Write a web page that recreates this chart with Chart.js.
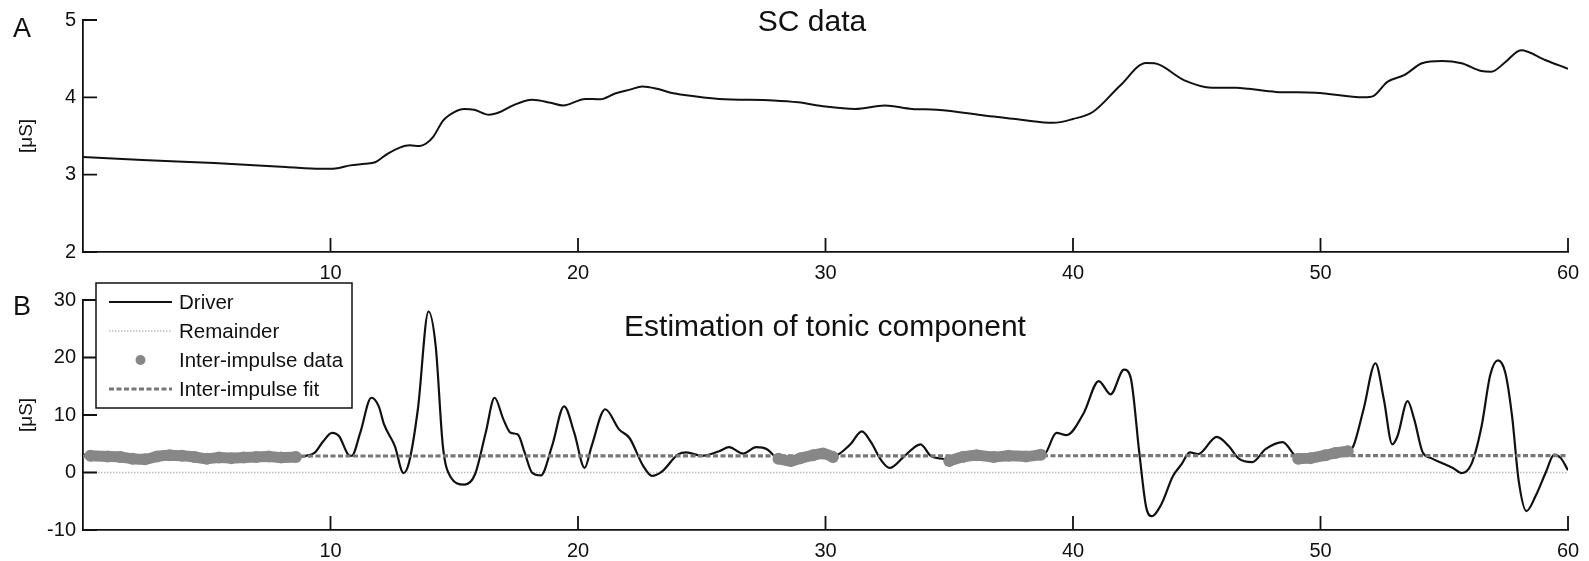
<!DOCTYPE html>
<html>
<head>
<meta charset="utf-8">
<title>SC data / tonic component</title>
<script src="https://cdn.jsdelivr.net/npm/chart.js@4.4.1/dist/chart.umd.min.js"></script>
<style>
  html, body { margin: 0; padding: 0; background: #fff; }
  #wrap { position: relative; width: 1589px; height: 561px; overflow: hidden; }
  canvas { position: absolute; left: 0; }
  #sc { top: 0; }
  #tonic { top: 270px; }
</style>
</head>
<body>
<div id="wrap">
  <canvas id="sc" width="1589" height="290"></canvas>
  <canvas id="tonic" width="1589" height="291"></canvas>
</div>
<script>
const FONT = "'Liberation Sans', Arial, Helvetica, sans-serif";
const INK = '#111';

// --- panel A: raw skin conductance (seconds, µS)
const scTime = [0, 2.4, 5.3, 8.2, 9.6, 10.2, 10.8, 11.4, 11.8, 12.3, 12.8, 13.2, 13.6, 13.85, 14.15, 14.55, 15.0, 15.4, 15.8, 16.4,
  16.85, 17.4, 18.15, 18.9, 19.4, 20.3, 20.9, 21.5, 22.1, 22.6, 23.2, 23.75, 24.3, 25.7, 27.9, 28.9, 30.0, 31.2, 32.4, 33.5,
  34.5, 36.55, 37.9, 39.2, 40.0, 40.8, 41.9, 42.95, 43.3, 44.5, 45.6, 46.6, 47.1, 48.2, 49.8, 51.75, 52.15, 52.7, 53.4, 54.1,
  54.9, 55.7, 56.5, 56.9, 57.45, 58.1, 59.1, 60];
const scValue = [3.23, 3.19, 3.15, 3.10, 3.075, 3.08, 3.12, 3.14, 3.16, 3.27, 3.35, 3.38, 3.37, 3.40, 3.49, 3.70, 3.81, 3.85, 3.84, 3.775,
  3.81, 3.90, 3.97, 3.93, 3.895, 3.98, 3.975, 4.05, 4.10, 4.14, 4.11, 4.06, 4.03, 3.98, 3.96, 3.935, 3.88, 3.85, 3.895, 3.85,
  3.84, 3.76, 3.71, 3.67, 3.72, 3.81, 4.15, 4.445, 4.44, 4.22, 4.125, 4.125, 4.11, 4.07, 4.06, 4.00, 4.02, 4.20, 4.29, 4.44,
  4.47, 4.44, 4.34, 4.33, 4.45, 4.61, 4.48, 4.37];

// --- panel B: driver and tonic estimation
const driverTime = [0, 0.5, 1.0, 1.5, 2.0, 2.5, 3.0, 3.5, 4.0, 4.5, 5.0, 5.5, 6.0, 6.5, 7.0, 7.5, 8.0, 8.6, 9.0, 9.35,
  9.7, 10.06, 10.35, 10.7, 10.86, 11.2, 11.65, 11.95, 12.16, 12.6, 12.95, 13.17, 13.53, 13.96, 14.25, 14.54, 14.83, 15.41, 15.84, 16.27,
  16.63, 16.99, 17.28, 17.57, 17.85, 18.14, 18.5, 18.95, 19.44, 19.85, 20.27, 20.55, 21.1, 21.66, 22.08, 22.64, 22.99, 23.4, 24.03, 24.38,
  25.0, 25.7, 26.1, 26.67, 27.2, 27.65, 28.06, 28.6, 29.0, 29.5, 29.9, 30.3, 30.98, 31.47, 31.82, 32.24, 32.59, 33.2, 33.84, 34.25,
  34.8, 35.0, 35.55, 36.1, 36.8, 37.4, 38.1, 38.7, 38.85, 39.33, 39.74, 40.43, 41.04, 41.52, 42.06, 42.33, 42.68, 42.95, 43.18, 43.56,
  44.04, 44.38, 44.72, 45.06, 45.81, 46.29, 46.7, 47.24, 47.79, 48.47, 48.95, 49.1, 49.6, 50.2, 50.6, 51.1, 51.33, 51.74, 52.22, 52.56,
  52.9, 53.11, 53.52, 53.79, 54.13, 54.47, 54.88, 55.35, 55.7, 56.1, 56.51, 56.86, 57.17, 57.47, 57.74, 58.01, 58.32, 58.69, 59.1, 59.44,
  59.71, 60];
const driverValue = [3.1, 2.9, 2.8, 2.7, 2.4, 2.3, 2.8, 3.0, 2.9, 2.7, 2.4, 2.6, 2.5, 2.6, 2.7, 2.8, 2.6, 2.7, 2.9, 3.4,
  5.4, 6.9, 6.3, 3.2, 2.9, 6.9, 13.0, 11.5, 8.4, 4.6, -0.1, 1.7, 11.0, 28.0, 22.0, 4.6, -0.6, -2.1, -0.3, 6.9,
  13.0, 9.2, 6.9, 6.6, 3.4, 0, -0.5, 4.6, 11.5, 6.9, 0.8, 4.6, 11.0, 7.5, 6.0, 1.1, -0.6, 0.2, 3.1, 3.5,
  2.9, 3.7, 4.4, 3.3, 4.4, 4.0, 2.4, 2.0, 2.5, 3.0, 3.3, 2.8, 4.8, 7.15, 5.4, 2.2, 0.8, 2.9, 4.9, 2.9,
  2.3, 2.0, 2.7, 3.0, 2.7, 2.9, 2.8, 3.1, 3.2, 6.9, 6.5, 10.3, 15.9, 13.6, 17.9, 16.5, 3.4, -5.9, -7.6, -5.6,
  -0.6, 1.4, 3.5, 3.2, 6.2, 4.6, 2.4, 1.8, 4.1, 5.3, 3.0, 2.4, 2.5, 3.0, 3.4, 3.7, 4.6, 11.0, 19.0, 12.7,
  4.9, 6.3, 12.4, 9.2, 3.5, 2.5, 1.7, 0.8, -0.1, 1.5, 8.1, 17.0, 19.5, 17.3, 9.8, -1.5, -6.7, -4.1, 0, 3.1,
  2.5, 0.4];

// inter-impulse segments, null value = gap between segments
const impTime = [0.3, 1.0, 1.5, 2.0, 2.5, 3.0, 3.5, 4.0, 4.5, 5.0, 5.5, 6.0, 6.5, 7.0, 7.5, 8.0, 8.6, 18,
  28.1, 28.6, 29.0, 29.5, 29.9, 30.3, 32,
  35.0, 35.55, 36.1, 36.8, 37.4, 38.1, 38.7, 45,
  49.1, 49.6, 50.2, 50.6, 51.1];
const impValue = [2.9, 2.8, 2.7, 2.4, 2.3, 2.8, 3.0, 2.9, 2.7, 2.4, 2.6, 2.5, 2.6, 2.7, 2.8, 2.6, 2.7, null,
  2.4, 2.0, 2.5, 3.0, 3.3, 2.7, null,
  2.0, 2.7, 3.0, 2.7, 2.9, 2.8, 3.1, null,
  2.4, 2.5, 3.0, 3.4, 3.7];

const fitTime = [0, 30, 60];
const fitValue = [2.85, 2.9, 2.95];
const remTime = [0, 60];
const remValue = [0, 0];

const xTicks = [10, 20, 30, 40, 50, 60];
const yTicksA = [2, 3, 4, 5];
const yTicksB = [-10, 0, 10, 20, 30];
const legendLabels = ['Driver', 'Remainder', 'Inter-impulse data', 'Inter-impulse fit'];

const toPoints = (xs, ys) => xs.map((x, i) => ({ x: x, y: ys[i] }));

// MATLAB style ticks pointing into the axes
const inwardTicks = {
  id: 'inwardTicks',
  afterDraw(chart) {
    const { ctx, chartArea: a, scales: { x, y } } = chart;
    ctx.save();
    ctx.strokeStyle = INK;
    ctx.lineWidth = 1.8;
    ctx.beginPath();
    x.ticks.forEach(t => {
      const px = x.getPixelForValue(t.value);
      ctx.moveTo(px, a.bottom);
      ctx.lineTo(px, a.bottom - 14);
    });
    y.ticks.forEach(t => {
      const py = y.getPixelForValue(t.value);
      ctx.moveTo(a.left, py);
      ctx.lineTo(a.left + 14, py);
    });
    ctx.stroke();
    ctx.restore();
  }
};

// panel letter and the title written inside the axes
const panelText = {
  id: 'panelText',
  afterDraw(chart, args, o) {
    const ctx = chart.ctx;
    ctx.save();
    ctx.fillStyle = INK;
    ctx.textBaseline = 'middle';
    ctx.textAlign = 'left';
    ctx.font = '27px ' + FONT;
    ctx.fillText(o.letter, 13, o.letterY);
    ctx.textAlign = 'center';
    ctx.font = '30px ' + FONT;
    ctx.fillText(o.title, o.titleX, o.titleY);
    ctx.restore();
  }
};

// boxed legend in the upper left corner of panel B
const boxLegend = {
  id: 'boxLegend',
  afterDraw(chart, args, o) {
    if (!o.labels) return;
    const ctx = chart.ctx;
    ctx.save();
    ctx.fillStyle = '#fff';
    ctx.fillRect(o.left, o.top, o.width, o.height);
    ctx.strokeStyle = INK;
    ctx.lineWidth = 1.5;
    ctx.strokeRect(o.left, o.top, o.width, o.height);
    ctx.font = '20.5px ' + FONT;
    ctx.textBaseline = 'middle';
    ctx.textAlign = 'left';
    o.labels.forEach((label, i) => {
      const ds = chart.data.datasets[i];
      const y = o.top + o.firstRow + i * o.rowGap;
      const x0 = o.left + 13, x1 = o.left + 76;
      if (ds.pointRadius > 0) {
        ctx.fillStyle = ds.borderColor;
        ctx.beginPath();
        ctx.arc((x0 + x1) / 2, y, 5, 0, Math.PI * 2);
        ctx.fill();
      } else {
        ctx.strokeStyle = ds.borderColor;
        ctx.lineWidth = ds.borderWidth;
        ctx.setLineDash(ds.borderDash || []);
        ctx.beginPath();
        ctx.moveTo(x0, y);
        ctx.lineTo(x1, y);
        ctx.stroke();
        ctx.setLineDash([]);
      }
      ctx.fillStyle = INK;
      ctx.fillText(label, o.left + 83, y + 1);
    });
    ctx.restore();
  }
};

function axes(yMin, yMax, yTicks, xHeight) {
  const tickFont = { family: FONT, size: 20 };
  return {
    x: {
      type: 'linear', min: 0, max: 60,
      afterBuildTicks: s => { s.ticks = xTicks.map(v => ({ value: v })); },
      afterFit: s => { s.height = xHeight; s.paddingLeft = 0; s.paddingRight = 0; },
      ticks: { font: tickFont, color: INK, padding: 9, maxRotation: 0, autoSkip: false },
      grid: { display: true, drawOnChartArea: false, drawTicks: false },
      border: { color: INK, width: 1.8 }
    },
    y: {
      min: yMin, max: yMax,
      afterBuildTicks: s => { s.ticks = yTicks.map(v => ({ value: v })); },
      afterFit: s => { s.width = 83; s.paddingTop = 0; s.paddingBottom = 0; },
      ticks: { font: tickFont, color: INK, padding: 7 },
      grid: { display: true, drawOnChartArea: false, drawTicks: false },
      border: { color: INK, width: 1.8 },
      title: { display: true, text: '[μS]', color: INK, font: { family: FONT, size: 19 }, padding: { top: 15, bottom: 0 } }
    }
  };
}

const common = {
  responsive: false,
  animation: false,
  events: [],
  parsing: false
};

new Chart(document.getElementById('sc'), {
  type: 'line',
  data: {
    datasets: [{
      data: toPoints(scTime, scValue),
      borderColor: INK, borderWidth: 2, pointRadius: 0,
      cubicInterpolationMode: 'monotone'
    }]
  },
  options: {
    ...common,
    layout: { padding: { left: 0, right: 21, top: 20, bottom: 0 } },
    scales: axes(2, 5, yTicksA, 38),
    plugins: {
      legend: { display: false },
      tooltip: { enabled: false },
      panelText: { letter: 'A', letterY: 30, title: 'SC data', titleX: 812, titleY: 23 }
    }
  },
  plugins: [inwardTicks, panelText]
});

new Chart(document.getElementById('tonic'), {
  type: 'line',
  data: {
    datasets: [
      {
        label: legendLabels[0],
        data: toPoints(driverTime, driverValue),
        borderColor: INK, borderWidth: 2.2, pointRadius: 0,
        cubicInterpolationMode: 'monotone', order: 2
      },
      {
        label: legendLabels[1],
        data: toPoints(remTime, remValue),
        borderColor: '#bdbdbd', borderWidth: 1.5, borderDash: [1.5, 1.5], pointRadius: 0, order: 3
      },
      {
        label: legendLabels[2],
        data: toPoints(impTime, impValue),
        borderColor: '#878787', borderWidth: 11, borderCapStyle: 'round', borderJoinStyle: 'round',
        pointRadius: 6, pointBackgroundColor: '#878787', pointBorderWidth: 0,
        spanGaps: false, cubicInterpolationMode: 'monotone', order: 0
      },
      {
        label: legendLabels[3],
        data: toPoints(fitTime, fitValue),
        borderColor: '#777', borderWidth: 3.2, borderDash: [5, 2.5], pointRadius: 0, order: 1
      }
    ]
  },
  options: {
    ...common,
    layout: { padding: { left: 0, right: 21, top: 30, bottom: 0 } },
    scales: axes(-10, 30, yTicksB, 31),
    plugins: {
      legend: { display: false },
      tooltip: { enabled: false },
      panelText: { letter: 'B', letterY: 38, title: 'Estimation of tonic component', titleX: 825, titleY: 58 },
      boxLegend: { labels: legendLabels, left: 96, top: 13, width: 256, height: 125, firstRow: 19, rowGap: 29 }
    }
  },
  plugins: [inwardTicks, panelText, boxLegend]
});
</script>
</body>
</html>
